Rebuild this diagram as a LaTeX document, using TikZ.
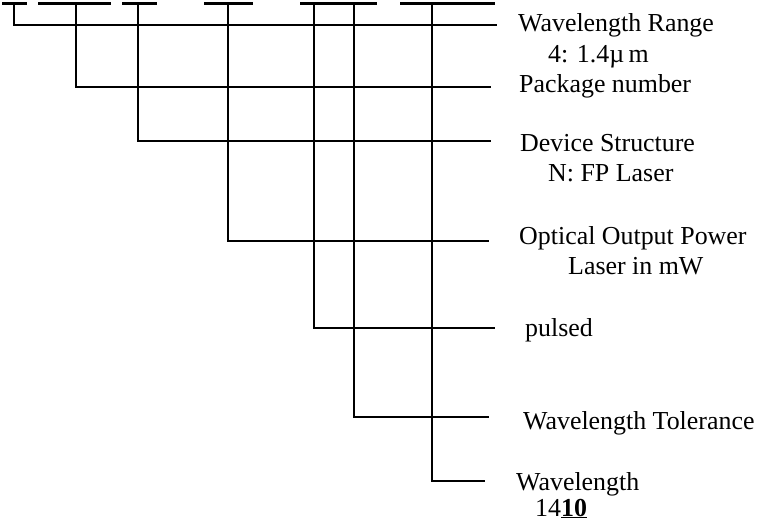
\documentclass[tikz,border=0pt]{standalone}
\usepackage{fontspec}
\setmainfont{Liberation Serif}
\usepackage{tikz}
\usetikzlibrary{calc}

\begin{document}
\begin{tikzpicture}[x=1pt,y=-1pt,
    bar/.style={line width=3pt},
    lead/.style={line width=1.3pt},
    lab/.style={anchor=base west,inner sep=0pt,font=\fontsize{25.9}{30}\selectfont}]
    \useasboundingbox (0,0) rectangle (764,524);
    % blanks of the part code
    \foreach \a/\b in {2/27,38/111,122/157,204/253,300/377,400/495}{
      \draw[bar] (\a,3.5)--(\b,3.5);
    }
    % one lead per field
    \foreach \i/\vx/\hy/\he in {1/14/25/497,2/76/87/491,3/138/141/491,4/228/241/489,
        5/314/328/495,6/354/417/489,7/432/481/485}{
      \coordinate (top\i) at (\vx,3.5);
      \coordinate (end\i) at (\he,\hy);
      \draw[lead] (top\i) |- (end\i);
    }
    \node[lab] (range) at (518,32) {Wavelength Range};
    \node[lab] (rangeval) at (548,63) {4: 1.4µ\,m};
    \node[lab] (pack) at (519,93) {Package number};
    \node[lab] (struct) at (520,152) {Device Structure};
    \node[lab] (structval) at (548,182) {N: FP Laser};
    \node[lab] (power) at (519,245) {Optical Output Power};
    \node[lab] (powerval) at (568,274) {Laser in mW};
    \node[lab] (pulse) at (525,336) {pulsed};
    \node[lab] (tol) at (523,429) {Wavelength Tolerance};
    \node[lab] (wl) at (516,490) {Wavelength};
    \node[lab] (wlval) at (535,516) {14\underline{\textbf{10}}};
  \end{tikzpicture}
\end{document}
